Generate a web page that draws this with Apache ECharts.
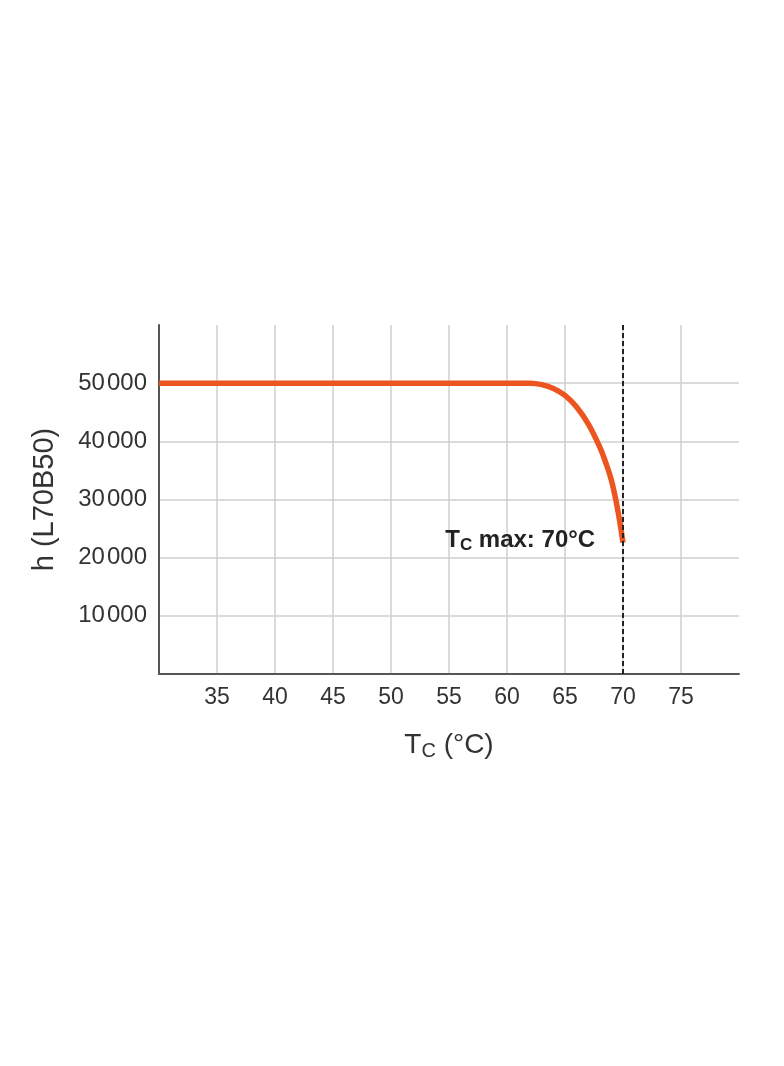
<!DOCTYPE html>
<html>
<head>
<meta charset="utf-8">
<script src="https://cdn.jsdelivr.net/npm/echarts@6/dist/echarts.min.js"></script>
<style>
html,body{margin:0;padding:0;background:#fff;}
#chart{width:784px;height:1066px;}
</style>
</head>
<body>
<div id="chart"></div>
<script>
// Data
const tempC = [30, 62, 63, 64, 65, 66, 67, 68, 68.5, 69, 69.5, 70];
const hours = [50000, 50000, 49750, 49100, 47900, 45900, 43000, 39000, 36400, 33300, 28700, 22600];
const tcMax = 70;
const annotationText = 'max: 70°C';
const xTicks = [35, 40, 45, 50, 55, 60, 65, 70, 75];
const yTicks = [10000, 20000, 30000, 40000, 50000];

const font = '"Liberation Sans", Arial, Helvetica, sans-serif';
const chart = echarts.init(document.getElementById('chart'));

const lineData = tempC.map((t, i) => [t, hours[i]]);

chart.setOption({
  backgroundColor: '#fff',
  animation: false,
  grid: { left: 159, right: 45, top: 325, bottom: 392 },
  xAxis: {
    type: 'value',
    min: 30, max: 80, interval: 5,
    name: '{t|T}{s|C}{n| (°C)}',
    nameLocation: 'middle',
    nameGap: 55,
    nameTextStyle: {
      fontFamily: font, color: '#333',
      rich: {
        t: { fontSize: 28, fontFamily: font, color: '#333' },
        s: { fontSize: 20, fontFamily: font, color: '#333', padding: [12, 0, 0, 0] },
        n: { fontSize: 28, fontFamily: font, color: '#333' }
      }
    },
    axisLine: { show: true, onZero: false, lineStyle: { color: '#555', width: 2 } },
    axisTick: { show: false },
    axisLabel: {
      fontFamily: font, fontSize: 23, color: '#333', margin: 12,
      formatter: v => xTicks.includes(v) ? String(v) : ''
    },
    splitLine: {
      show: true,
      lineStyle: {
        color: ['transparent', '#cfcfcf', '#cfcfcf', '#cfcfcf', '#cfcfcf', '#cfcfcf', '#cfcfcf', '#cfcfcf', '#cfcfcf', '#cfcfcf', 'transparent'],
        width: 1.5
      }
    }
  },
  yAxis: {
    type: 'value',
    min: 0, max: 60000, interval: 10000,
    name: 'h (L70B50)',
    nameLocation: 'middle',
    nameGap: 100,
    nameRotate: 90,
    nameTextStyle: { fontFamily: font, fontSize: 29, color: '#333' },
    axisLine: { show: true, onZero: false, lineStyle: { color: '#555', width: 2 } },
    axisTick: { show: false },
    axisLabel: {
      fontFamily: font, fontSize: 24, color: '#333', margin: 12,
      formatter: v => yTicks.includes(v) ? (String(v / 1000) + '\u200A000') : ''
    },
    splitLine: {
      show: true,
      lineStyle: {
        color: ['transparent', '#cfcfcf', '#cfcfcf', '#cfcfcf', '#cfcfcf', '#cfcfcf', 'transparent'],
        width: 1.5
      }
    }
  },
  series: [{
    type: 'line',
    data: lineData,
    smooth: 0.4,
    showSymbol: false,
    symbol: 'none',
    lineStyle: { color: '#ec5520', width: 5.5, cap: 'butt' },
    markLine: {
      silent: true,
      symbol: ['none', 'none'],
      label: { show: false },
      lineStyle: { color: '#222', type: [5, 3], width: 2 },
      data: [{ xAxis: tcMax }]
    },
    markPoint: {
      silent: true,
      symbol: 'circle',
      symbolSize: 0,
      data: [{ coord: [67.6, 22900] }],
      label: {
        show: true,
        position: 'inside',
        align: 'right',
        verticalAlign: 'middle',
        formatter: '{t|T}{s|C}{n| ' + annotationText + '}',
        rich: {
          t: { fontSize: 24, fontWeight: 'bold', fontFamily: font, color: '#222' },
          s: { fontSize: 17, fontWeight: 'bold', fontFamily: font, color: '#222', padding: [10, 0, 0, 0] },
          n: { fontSize: 24, fontWeight: 'bold', fontFamily: font, color: '#222' }
        }
      }
    }
  }]
});
</script>
</body>
</html>
